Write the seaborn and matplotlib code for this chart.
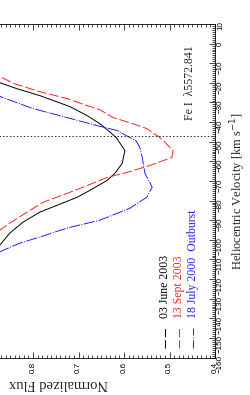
import numpy as np
import matplotlib
matplotlib.use("Agg")
import matplotlib.pyplot as plt
import seaborn as sns
import pandas as pd
from matplotlib.ticker import MultipleLocator, FuncFormatter

sns.set_style("ticks")
plt.rcParams["font.family"] = ["Liberation Serif", "DejaVu Serif"]
plt.rcParams["lines.scale_dashes"] = False

# line profiles: heliocentric velocity (km/s) vs normalized flux
june_vel = [-5, -20.0, -23.0, -26.5, -32.1, -36.7, -40.8, -44.3, -47.9, -54.5, -61.1,
            -66.1, -69.7, -74.8, -78.3, -82.4, -85.9, -91.0, -96.6, -102.7, -115]
june_flux = [0.96, 0.872, 0.835, 0.785, 0.719, 0.681, 0.653, 0.635, 0.617, 0.598, 0.604,
             0.620, 0.637, 0.675, 0.703, 0.747, 0.785, 0.822, 0.851, 0.873, 0.93]

sept_vel = [-5, -16.9, -20.5, -24.5, -28.0, -31.6, -33.7, -37.7, -40.8, -43.3, -47.9, -49.4,
            -54.5, -58.0, -62.1, -65.6, -68.2, -73.2, -76.3, -80.9, -85.9, -91.5, -95.0, -110]
sept_flux = [0.95, 0.872, 0.840, 0.785, 0.725, 0.681, 0.653, 0.624, 0.580, 0.550, 0.521, 0.514,
             0.492, 0.495, 0.543, 0.593, 0.637, 0.690, 0.725, 0.778, 0.813, 0.851, 0.872, 0.93]

july_vel = [-10, -27.0, -33.1, -37.7, -41.8, -44.3, -46.9, -49.4, -53.0, -58.0, -66.1, -73.2,
            -78.3, -83.9, -90.0, -94.0, -98.6, -101.7, -106.0, -120]
july_flux = [0.95, 0.872, 0.800, 0.725, 0.659, 0.615, 0.595, 0.574, 0.565, 0.560, 0.554, 0.538,
             0.550, 0.587, 0.653, 0.725, 0.785, 0.829, 0.872, 0.93]

labels = ["03 June 2003", "13 Sept 2003", "18 July 2000  Outburst"]
colors = ["black", "#ff2020", "#2020ff"]
styles = ["-", (0, (7, 2)), (0, (8, 1, 0.8, 1))]
sample_styles = [(0, (6, 2)), (0, (6, 2)), (0, (5.8, 1.4, 0.7, 1.4))]
line_name = "Fe I  \u03bb5572.841"
ref_vel = -47

fig = plt.figure(figsize=(2.5, 3.95), dpi=100)
ax = fig.add_axes([-0.414, 0.0949, 1.274, 0.8443])

series = [(june_vel, june_flux), (sept_vel, sept_flux), (july_vel, july_flux)]
for (vel, flux), col, ls in zip(series, colors, styles):
    df = pd.DataFrame({"flux": flux, "vel": vel})
    sns.lineplot(data=df, x="flux", y="vel", orient="y", estimator=None,
                 color=col, linestyle=ls, lw=0.7, ax=ax)

ax.axhline(ref_vel, color="black", lw=0.6, ls=(0, (1, 1.5)))

ax.set_xlim(1.1, 0.4)
ax.set_ylim(-160, 10)
ax.xaxis.set_major_locator(MultipleLocator(0.1))
ax.xaxis.set_minor_locator(MultipleLocator(0.01))
# labels for flux ticks that fall outside the cropped figure are left empty
ax.xaxis.set_major_formatter(FuncFormatter(lambda v, p: f"{v:.1f}" if v < 0.85 else ""))
ax.yaxis.set_major_locator(MultipleLocator(10))
ax.yaxis.set_minor_locator(MultipleLocator(1))

ax.tick_params(which="both", direction="in", top=True, bottom=True, left=True, right=True,
               labelleft=False, labelright=True, labelbottom=True, labeltop=False,
               width=0.5, colors="black")
ax.tick_params(which="major", length=4)
ax.tick_params(which="minor", length=2)
ax.tick_params(axis="y", labelrotation=90, pad=1.5, labelsize=5.8)
ax.tick_params(axis="x", labelrotation=90, pad=3, labelsize=5.8)
for lbl in ax.get_xticklabels() + ax.get_yticklabels():
    lbl.set_family("Liberation Sans")

for sp in ax.spines.values():
    sp.set_linewidth(0.6)
    sp.set_color("black")

ax.set_xlabel("Normalized Flux", fontsize=10.5, rotation=180, ha="center", va="center")
ax.xaxis.set_label_coords(0.507, -0.0765)
ax.yaxis.set_label_position("right")
ax.set_ylabel("Heliocentric Velocity [km s$^{-1}$]", fontsize=9, rotation=90,
              ha="center", va="center")
ax.yaxis.set_label_coords(1.072, 0.5)

ax.text(0.9215, 0.712, line_name, transform=ax.transAxes, rotation=90,
        ha="center", va="bottom", fontsize=8.5)

# legend drawn rotated like the rest of the figure
leg_x = [0.843, 0.887, 0.931]
for x, lab, col, ls in zip(leg_x, labels, colors, sample_styles):
    ax.plot([x, x], [0.0285, 0.0885], transform=ax.transAxes, color=col, lw=0.7, ls=ls,
            clip_on=False)
    ax.text(x, 0.118, lab, transform=ax.transAxes, rotation=90, ha="center", va="bottom",
            fontsize=8.5, color=col)

fig.savefig("out.png", dpi=100)
